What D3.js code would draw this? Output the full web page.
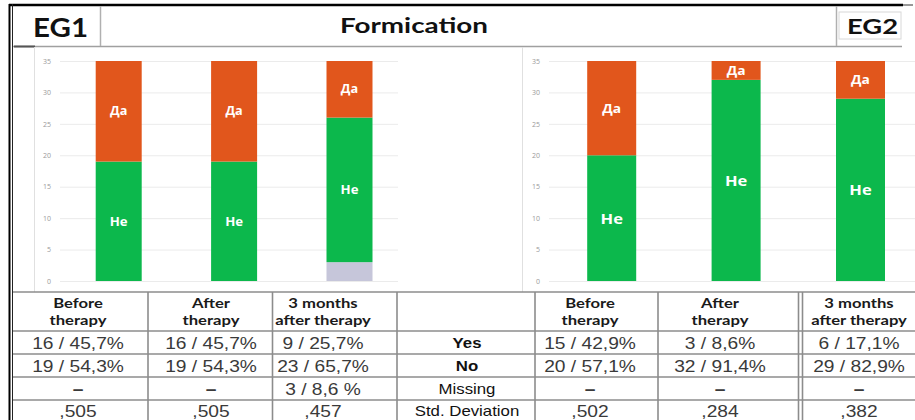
<!DOCTYPE html>
<html>
<head>
<meta charset="utf-8">
<script src="https://cdn.jsdelivr.net/npm/d3@7"></script>
<style>
  body { margin: 0; background: #fff; }
  svg { display: block; }
</style>
</head>
<body>
<svg id="chart" width="915" height="420"></svg>
<script>
// Data
var periods = ["Before therapy", "After therapy", "3 months after therapy"];
var eg1Missing = [0, 0, 3];
var eg1No = [19, 19, 23];
var eg1Yes = [16, 16, 9];
var eg2Missing = [0, 0, 0];
var eg2No = [20, 32, 29];
var eg2Yes = [15, 3, 6];
var yTicks = [0, 5, 10, 15, 20, 25, 30, 35];

var headerLines = [["Before", "therapy"], ["After", "therapy"], ["3 months", "after therapy"]];
var rowLabels = ["Yes", "No", "Missing", "Std. Deviation"];
var eg1Cells = [
  ["16 / 45,7%", "16 / 45,7%", "9 / 25,7%"],
  ["19 / 54,3%", "19 / 54,3%", "23 / 65,7%"],
  ["\u2013", "\u2013", "3 / 8,6 %"],
  [",505", ",505", ",457"]
];
var eg2Cells = [
  ["15 / 42,9%", "3 / 8,6%", "6 / 17,1%"],
  ["20 / 57,1%", "32 / 91,4%", "29 / 82,9%"],
  ["\u2013", "\u2013", "\u2013"],
  [",502", ",284", ",382"]
];

var colors = {missing: "#c6c6da", no: "#0cb84c", yes: "#e1561c"};

var svg = d3.select("#chart");

// helper: text stretched horizontally like the scanned picture
function stext(g, x, y, str, size, opts) {
  opts = opts || {};
  return g.append("text")
    .attr("transform", "translate(" + x + "," + y + ") scale(" + (opts.sx || 1) + ",1)")
    .attr("text-anchor", opts.anchor || "middle")
    .style("font-family", opts.family || "'Liberation Sans', Arial, sans-serif")
    .style("font-size", size + "px")
    .style("font-weight", opts.weight || "normal")
    .style("fill", opts.fill || "#222")
    .text(str);
}

// ---- header strip ----
var head = svg.append("g");
head.append("line").attr("x1", 9).attr("x2", 903).attr("y1", 5).attr("y2", 5)
  .attr("stroke", "#000").attr("stroke-width", 2.5);
head.append("line").attr("x1", 903).attr("x2", 913).attr("y1", 5).attr("y2", 5)
  .attr("stroke", "#333").attr("stroke-width", 1);
head.append("line").attr("x1", 12).attr("x2", 902).attr("y1", 46.5).attr("y2", 46.5)
  .attr("stroke", "#a0a0a0").attr("stroke-width", 1.5);
head.append("line").attr("x1", 14).attr("x2", 35).attr("y1", 46.5).attr("y2", 46.5)
  .attr("stroke", "#555").attr("stroke-width", 2);
head.append("line").attr("x1", 100.5).attr("x2", 100.5).attr("y1", 6).attr("y2", 46)
  .attr("stroke", "#b0b0b0").attr("stroke-width", 1.5);
head.append("line").attr("x1", 836.5).attr("x2", 836.5).attr("y1", 6).attr("y2", 46)
  .attr("stroke", "#b0b0b0").attr("stroke-width", 1.5);
head.append("rect").attr("x", 839).attr("y", 12).attr("width", 62).attr("height", 27)
  .attr("fill", "#fff").attr("stroke", "#d8d8d8");

head.append("text").attr("x", 33).attr("y", 37)
  .attr("textLength", 55).attr("lengthAdjust", "spacingAndGlyphs")
  .style("font-family", "Lato, sans-serif").style("font-weight", "bold")
  .style("font-size", "27px").style("fill", "#111").text("EG1");
head.append("text").attr("x", 340).attr("y", 33)
  .attr("textLength", 148).attr("lengthAdjust", "spacingAndGlyphs")
  .style("font-family", "Lato, sans-serif").style("font-weight", "bold")
  .style("font-size", "21px").style("fill", "#111").text("Formication");
head.append("text").attr("x", 847).attr("y", 34)
  .attr("textLength", 51).attr("lengthAdjust", "spacingAndGlyphs")
  .style("font-family", "Lato, sans-serif").style("font-weight", "bold")
  .style("font-size", "21px").style("fill", "#111").text("EG2");

// ---- the two stacked bar charts ----
var y = d3.scaleLinear().domain([0, 35]).range([281, 61]);

function drawChart(frameX, gridX0, gridX1, x0, x1, barW, miss, no, yes, big) {
  var g = svg.append("g");
  g.append("line").attr("x1", frameX).attr("x2", frameX).attr("y1", 47).attr("y2", 292)
    .attr("stroke", "#e0e0e0");

  var axis = g.append("g")
    .attr("transform", "translate(" + gridX0 + ",0)")
    .call(d3.axisLeft(y).tickValues(yTicks).tickSize(-(gridX1 - gridX0)).tickPadding(9));
  axis.select(".domain").remove();
  axis.selectAll(".tick line").attr("stroke", "#ebebeb");
  axis.selectAll(".tick text")
    .style("font-family", "'Open Sans', sans-serif").style("font-size", "7px").style("fill", "#9a9a9a");

  var x = d3.scalePoint().domain(periods).range([x0, x1]);
  var rows = periods.map(function(p, i) {
    return {period: p, missing: miss[i], no: no[i], yes: yes[i]};
  });
  var stack = d3.stack().keys(["missing", "no", "yes"])(rows);

  stack.forEach(function(layer) {
    g.append("g").selectAll("rect")
      .data(layer)
      .enter()
      .append("rect")
      .attr("x", function(d) { return x(d.data.period) - barW / 2; })
      .attr("y", function(d) { return y(d[1]); })
      .attr("width", barW)
      .attr("height", function(d) { return y(d[0]) - y(d[1]); })
      .attr("fill", colors[layer.key]);
  });

  // segment labels
  var labelText = {no: "\u041d\u0435", yes: "\u0414\u0430"};
  stack.filter(function(l) { return l.key != "missing"; }).forEach(function(layer) {
    layer.forEach(function(d) {
      var mid = y((d[0] + d[1]) / 2);
      var size = layer.key == "no" ? (big ? 15 : 12) : (big ? 12.5 : 11.5);
      stext(g, x(d.data.period), mid + size * 0.36, labelText[layer.key], size,
        {weight: "bold", fill: "#fff", sx: 1.1, family: "'Open Sans', sans-serif"});
    });
  });
}

drawChart(34.5, 60, 398, 118.7, 349.5, 46, eg1Missing, eg1No, eg1Yes, false);
drawChart(522.5, 549, 915, 611.7, 860.5, 49, eg2Missing, eg2No, eg2Yes, true);

// ---- table ----
var tbl = svg.append("g");
var hLines = [292, 331, 354, 377, 400];
var vLines = [148, 272.5, 397, 535, 658, 798.5, 802.5];
hLines.forEach(function(v) {
  tbl.append("line").attr("x1", 12).attr("x2", 915).attr("y1", v).attr("y2", v)
    .attr("stroke", "#8c8c8c").attr("stroke-width", 1.6);
});
vLines.forEach(function(v) {
  tbl.append("line").attr("x1", v).attr("x2", v).attr("y1", 292).attr("y2", 420)
    .attr("stroke", "#8c8c8c").attr("stroke-width", 1.6);
});

var leftCols = [78, 211, 323];
var rightCols = [590, 720, 859];
var rowBase = [349, 372, 395, 417];

headerLines.forEach(function(lines, i) {
  [leftCols[i], rightCols[i]].forEach(function(cx) {
    stext(tbl, cx, 308, lines[0], 13, {weight: "bold", family: "Lato, sans-serif", sx: 1.28, fill: "#1a1a1a"});
    stext(tbl, cx, 325, lines[1], 13, {weight: "bold", family: "Lato, sans-serif", sx: 1.28, fill: "#1a1a1a"});
  });
});

rowLabels.forEach(function(lab, r) {
  stext(tbl, 467, rowBase[r] - 1, lab, 14,
    {sx: 1.2, weight: r < 2 ? "bold" : "normal", fill: "#111"});
});

function drawCells(cells, cols) {
  cells.forEach(function(row, r) {
    row.forEach(function(val, c) {
      var dash = val == "\u2013";
      stext(tbl, cols[c], rowBase[r], val, 16,
        {sx: 1.2, fill: "#3a3a3a", weight: dash ? "bold" : "normal"});
    });
  });
}
drawCells(eg1Cells, leftCols);
drawCells(eg2Cells, rightCols);

// outer left double border
svg.append("line").attr("x1", 9.5).attr("x2", 9.5).attr("y1", 4).attr("y2", 420)
  .attr("stroke", "#000").attr("stroke-width", 2);
svg.append("line").attr("x1", 12.5).attr("x2", 12.5).attr("y1", 4).attr("y2", 420)
  .attr("stroke", "#222").attr("stroke-width", 1);
</script>
</body>
</html>
